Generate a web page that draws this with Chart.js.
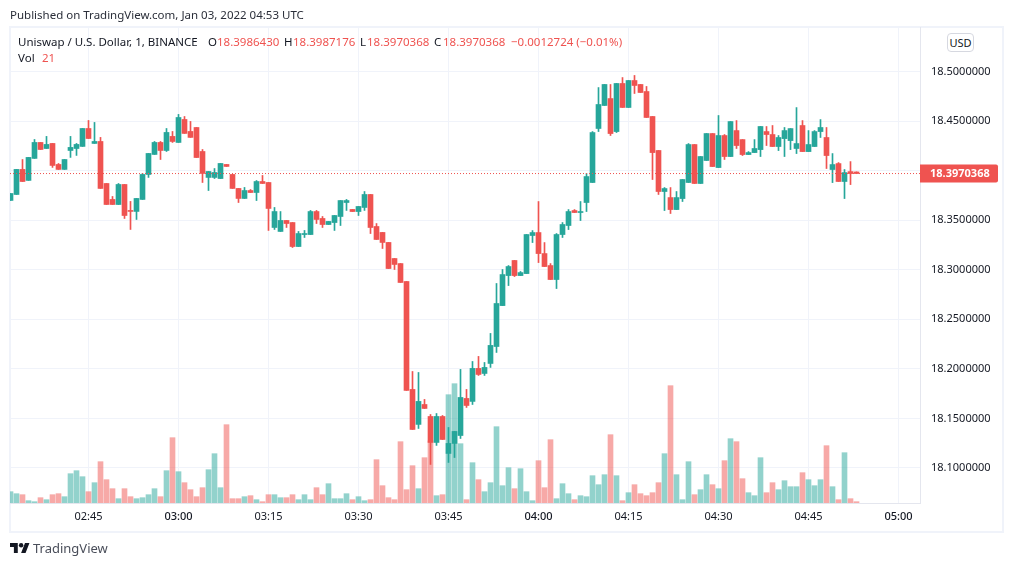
<!DOCTYPE html>
<html>
<head>
<meta charset="utf-8">
<title>Uniswap / U.S. Dollar</title>
<script src="https://cdn.jsdelivr.net/npm/chart.js@4"></script>
<style>
  html, body { margin: 0; padding: 0; background: #fff; }
  body { width: 1012px; height: 566px; position: relative; overflow: hidden; font-family: "Noto Sans", sans-serif; font-size: 11.5px; color: #131722; }
  #frame { position: absolute; left: 9px; top: 26px; width: 991px; height: 503px; border: 2px solid #f0f3fa; }
  canvas { position: absolute; left: 0; top: 0; }
  .t { position: absolute; white-space: nowrap; line-height: 16px; }
  .r { color: #ef5350; }
  #usd { position: absolute; left: 947px; top: 33px; width: 25px; height: 17px; border: 1px solid #d6d8e0; border-radius: 4px; text-align: center; line-height: 17px; font-size: 11px; background: #fff; }
  #logo { position: absolute; left: 10px; top: 543px; }
</style>
</head>
<body>
<div id="frame"></div>
<canvas id="chart" width="1012" height="566"></canvas>

<div class="t" style="left:10px;top:7px;color:#2a2e39">Published on TradingView.com, Jan 03, 2022 04:53 UTC</div>
<div class="t" style="left:18px;top:34px">Uniswap / U.S. Dollar, 1, BINANCE</div>
<div class="t" style="left:208px;top:34px">O</div>
<div class="t r" style="left:217px;top:34px">18.3986430</div>
<div class="t" style="left:284px;top:34px">H</div>
<div class="t r" style="left:293px;top:34px">18.3987176</div>
<div class="t" style="left:360px;top:34px">L</div>
<div class="t r" style="left:367px;top:34px">18.3970368</div>
<div class="t" style="left:434px;top:34px">C</div>
<div class="t r" style="left:443px;top:34px">18.3970368</div>
<div class="t r" style="left:511px;top:34px">−0.0012724 (−0.01%)</div>
<div class="t" style="left:18px;top:50px">Vol</div>
<div class="t r" style="left:42px;top:50px">21</div>
<div id="usd">USD</div>

<svg id="logo" width="20" height="10" viewBox="0 0 36 18"><path fill="#131722" d="M14 18H7V7H0V0h14zM28 18h-8L27 0h8z"/><circle fill="#131722" cx="20" cy="4" r="4"/></svg>
<div class="t" style="left:33px;top:540px;font-size:13px;color:#4a4e5a">TradingView</div>

<script>
// minute of day of the first candle (02:32), one candle per minute
const firstMinute = 152;

const opens = [
  18.3699,18.3759,18.4012,18.3901,18.4123,18.4284,18.4223,18.4274,18.4062,18.4012,
  18.4203,18.4223,18.4244,18.4425,18.4274,18.4294,18.3870,18.3709,18.3658,18.3860,
  18.3598,18.3588,18.3709,18.3961,18.4163,18.4284,18.4203,18.4345,18.4284,18.4516,
  18.4395,18.4435,18.4193,18.3931,18.3931,18.3920,18.4062,18.3961,18.3820,18.3719,
  18.3799,18.3779,18.3890,18.3880,18.3426,18.3386,18.3497,18.3476,18.3234,18.3355,
  18.3355,18.3587,18.3517,18.3456,18.3476,18.3537,18.3678,18.3608,18.3587,18.3628,
  18.3759,18.3436,18.3376,18.3275,18.3113,18.3062,18.2881,18.1792,18.1439,18.1640,
  18.1519,18.1257,18.1519,18.1146,18.1247,18.1327,18.1701,18.1671,18.2004,18.1953,
  18.2054,18.2225,18.2638,18.2941,18.3093,18.2941,18.2961,18.3345,18.3375,18.3163,
  18.3042,18.2901,18.3355,18.3446,18.3597,18.3577,18.3678,18.3880,18.4425,18.4657,
  18.4727,18.4394,18.4879,18.4637,18.4909,18.4869,18.4798,18.4546,18.4203,18.3789,
  18.3728,18.3607,18.3718,18.3880,18.4263,18.3870,18.4102,18.4374,18.4031,18.4354,
  18.4142,18.4404,18.4313,18.4162,18.4182,18.4212,18.4394,18.4364,18.4243,18.4323,
  18.4303,18.4223,18.4455,18.4192,18.4243,18.4394,18.4334,18.4011,18.4071,18.3890,
  18.3990,18.3986430
];
const closes = [
  18.3769,18.4012,18.3890,18.4133,18.4284,18.4213,18.4264,18.4052,18.4012,18.4112,
  18.4234,18.4264,18.4425,18.4324,18.4294,18.3820,18.3658,18.3658,18.3860,18.3547,
  18.3588,18.3719,18.3961,18.4173,18.4284,18.4203,18.4385,18.4294,18.4536,18.4375,
  18.4335,18.4132,18.3971,18.3991,18.3981,18.4072,18.4042,18.3820,18.3719,18.3799,
  18.3779,18.3890,18.3870,18.3618,18.3587,18.3497,18.3466,18.3234,18.3365,18.3365,
  18.3587,18.3507,18.3456,18.3487,18.3547,18.3698,18.3698,18.3587,18.3638,18.3759,
  18.3426,18.3305,18.3275,18.3012,18.3053,18.2871,18.1782,18.1388,18.1671,18.1600,
  18.1257,18.1519,18.1287,18.1247,18.1368,18.1711,18.1630,18.2004,18.1943,18.2014,
  18.2236,18.2659,18.2951,18.3032,18.2941,18.2971,18.3355,18.3375,18.3163,18.3032,
  18.2901,18.3355,18.3456,18.3587,18.3577,18.3587,18.3940,18.4384,18.4667,18.4869,
  18.4374,18.4879,18.4637,18.4909,18.4859,18.4788,18.4536,18.4182,18.3789,18.3819,
  18.3607,18.3728,18.3910,18.4263,18.3870,18.4142,18.4374,18.4041,18.4354,18.4142,
  18.4495,18.4253,18.4162,18.4182,18.4223,18.4445,18.4364,18.4243,18.4334,18.4404,
  18.4424,18.4273,18.4192,18.4263,18.4394,18.4435,18.4152,18.4061,18.3890,18.3980,
  18.3970,18.3970368
];
const highs = [
  18.3769,18.4012,18.4112,18.4133,18.4314,18.4284,18.4345,18.4274,18.4072,18.4112,
  18.4345,18.4274,18.4425,18.4506,18.4486,18.4335,18.3870,18.3739,18.3870,18.3860,
  18.3689,18.3719,18.3971,18.4173,18.4294,18.4294,18.4425,18.4395,18.4567,18.4546,
  18.4496,18.4435,18.4213,18.3991,18.4021,18.4072,18.4062,18.3961,18.3820,18.3830,
  18.3809,18.3900,18.3951,18.3880,18.3628,18.3587,18.3497,18.3476,18.3386,18.3396,
  18.3598,18.3598,18.3537,18.3487,18.3547,18.3698,18.3709,18.3608,18.3638,18.3789,
  18.3759,18.3466,18.3376,18.3275,18.3113,18.3062,18.2881,18.1973,18.1963,18.1691,
  18.1539,18.1549,18.1529,18.1408,18.1368,18.1994,18.1792,18.2074,18.2125,18.2064,
  18.2357,18.2861,18.3002,18.3042,18.3093,18.2982,18.3355,18.3395,18.3688,18.3274,
  18.3062,18.3365,18.3476,18.3607,18.3607,18.3688,18.3970,18.4394,18.4838,18.4869,
  18.4869,18.4879,18.4939,18.4909,18.4960,18.4869,18.4849,18.4546,18.4203,18.3829,
  18.3829,18.3789,18.3910,18.4273,18.4263,18.4142,18.4374,18.4374,18.4556,18.4364,
  18.4495,18.4505,18.4313,18.4192,18.4313,18.4445,18.4445,18.4455,18.4354,18.4435,
  18.4424,18.4636,18.4505,18.4404,18.4404,18.4515,18.4435,18.4172,18.4081,18.4011,
  18.4091,18.3987176
];
const lows = [
  18.3699,18.3759,18.3890,18.3901,18.4123,18.4213,18.4223,18.4032,18.4012,18.4012,
  18.4133,18.4153,18.4244,18.4324,18.4274,18.3820,18.3658,18.3658,18.3658,18.3517,
  18.3406,18.3507,18.3709,18.3931,18.4163,18.4112,18.4193,18.4284,18.4284,18.4375,
  18.4335,18.4132,18.3880,18.3799,18.3920,18.3920,18.4042,18.3820,18.3678,18.3719,
  18.3779,18.3698,18.3870,18.3396,18.3406,18.3386,18.3426,18.3224,18.3234,18.3325,
  18.3355,18.3466,18.3426,18.3456,18.3396,18.3446,18.3598,18.3587,18.3547,18.3598,
  18.3365,18.3305,18.3214,18.3012,18.3002,18.2871,18.1782,18.1388,18.1398,18.1600,
  18.1035,18.1227,18.1287,18.1055,18.1105,18.1297,18.1610,18.1640,18.1933,18.1933,
  18.2014,18.2165,18.2638,18.2840,18.2931,18.2941,18.2961,18.3274,18.3072,18.3032,
  18.2901,18.2810,18.3325,18.3405,18.3577,18.3496,18.3587,18.3880,18.4394,18.4657,
  18.4354,18.4384,18.4637,18.4637,18.4778,18.4788,18.4536,18.3910,18.3759,18.3597,
  18.3567,18.3607,18.3688,18.3880,18.3870,18.3870,18.4102,18.4041,18.4031,18.4112,
  18.4142,18.4223,18.4152,18.4162,18.4182,18.4142,18.4253,18.4243,18.4202,18.4142,
  18.4212,18.4172,18.4192,18.4192,18.4243,18.4334,18.4021,18.3879,18.3890,18.3718,
  18.3859,18.3970368
];
const volumes = [
  181,149,133,37,21,85,53,133,149,101,
  469,517,421,181,325,661,373,229,69,229,
  101,69,85,133,229,101,517,1045,501,325,
  213,101,245,533,789,245,1253,69,69,101,
  117,53,21,133,133,85,85,133,53,133,
  53,245,133,309,69,69,149,53,101,37,
  53,693,277,85,53,981,213,597,229,725,
  992,117,133,1733,1909,949,53,645,373,181,
  325,1221,277,565,229,549,181,37,677,245,
  1013,69,309,149,53,117,101,437,293,453,
  1093,437,37,165,293,149,117,165,325,789,
  1877,453,53,661,133,213,453,293,229,677,
  1029,981,389,165,117,725,165,325,213,357,
  261,261,485,373,277,373,917,261,53,805,
  69,21
];

const priceTicks = [18.1, 18.15, 18.2, 18.25, 18.3, 18.35, 18.4, 18.45, 18.5];
const hiddenPriceTick = 18.4; // covered by the last price label
const timeTicks = [165, 180, 195, 210, 225, 240, 255, 270, 285, 300];
const timeLabels = ['02:45', '03:00', '03:15', '03:30', '03:45', '04:00', '04:15', '04:30', '04:45', '05:00'];

const UP = '#26a69a', DOWN = '#ef5350';
const UP_VOL = 'rgba(38,166,154,0.5)', DOWN_VOL = 'rgba(239,83,80,0.5)';
const GRID = '#f0f3fa', AXIS = '#e4e6ee', TEXT = '#131722';
const FONT = '"Noto Sans", sans-serif';

// 6px per minute, candles sit on half pixels so the 1px wicks stay crisp
const xMin = 151.9167, xMax = 303.5833;
const lastClose = closes[closes.length - 1];
const isUp = closes.map((c, i) => c >= opens[i]);
const minuteOf = i => firstMinute + i;

// last price badge on the price axis
const lastPriceBadge = {
  id: 'lastPriceBadge',
  afterDraw(chart) {
    const { ctx, scales } = chart;
    const y = scales.y.getPixelForValue(lastClose);
    ctx.save();
    ctx.fillStyle = DOWN;
    ctx.beginPath();
    ctx.roundRect(920, y - 9, 78, 18, [0, 2, 2, 0]);
    ctx.fill();
    ctx.fillStyle = '#fff';
    ctx.font = 'bold 11px ' + FONT;
    ctx.textBaseline = 'middle';
    ctx.textAlign = 'left';
    ctx.fillText(lastClose.toFixed(7), 930, y + 0.5);
    ctx.restore();
  }
};

new Chart(document.getElementById('chart'), {
  type: 'bar',
  data: {
    datasets: [
      {
        type: 'line',
        data: [{ x: xMin, y: lastClose }, { x: xMax, y: lastClose }],
        borderColor: DOWN,
        borderWidth: 1,
        borderDash: [1, 2],
        pointRadius: 0,
        yAxisID: 'y',
        order: 0
      },
      {
        data: opens.map((o, i) => ({ x: minuteOf(i), y: [o, closes[i]] })),
        backgroundColor: isUp.map(u => u ? UP : DOWN),
        barThickness: 5,
        grouped: false,
        yAxisID: 'y',
        order: 1
      },
      {
        data: lows.map((l, i) => ({ x: minuteOf(i), y: [l, highs[i]] })),
        backgroundColor: isUp.map(u => u ? UP : DOWN),
        barThickness: 1,
        grouped: false,
        yAxisID: 'y',
        order: 2
      },
      {
        data: volumes.map((v, i) => ({ x: minuteOf(i), y: v })),
        backgroundColor: isUp.map(u => u ? UP_VOL : DOWN_VOL),
        barThickness: 5,
        grouped: false,
        yAxisID: 'yVol',
        order: 3
      }
    ]
  },
  options: {
    responsive: false,
    animation: false,
    layout: { padding: { left: 10, top: 27, right: 10, bottom: 36 } },
    plugins: { legend: { display: false }, tooltip: { enabled: false } },
    scales: {
      x: {
        type: 'linear',
        offset: false,
        min: xMin,
        max: xMax,
        afterFit: s => { s.height = 27; },
        afterBuildTicks: s => { s.ticks = timeTicks.map(v => ({ value: v })); },
        grid: { color: GRID, drawTicks: false, offset: false },
        border: { color: AXIS },
        ticks: {
          autoSkip: false,
          maxRotation: 0,
          padding: 7,
          color: TEXT,
          font: c => ({ family: FONT, size: 11, weight: c.tick && c.tick.value % 60 === 0 ? '500' : '400' }),
          callback: v => timeLabels[timeTicks.indexOf(v)]
        }
      },
      y: {
        position: 'right',
        min: 18.0646,
        max: 18.5449,
        afterFit: s => { s.width = 82; },
        afterBuildTicks: s => { s.ticks = priceTicks.map(v => ({ value: v })); },
        grid: { color: GRID, drawTicks: false },
        border: { color: AXIS },
        ticks: {
          autoSkip: false,
          padding: 11,
          color: TEXT,
          font: { family: FONT, size: 11 },
          callback: v => v === hiddenPriceTick ? '' : v.toFixed(7)
        }
      },
      yVol: {
        display: false,
        min: 0,
        max: 7616
      }
    }
  },
  plugins: [lastPriceBadge]
});
</script>
</body>
</html>
